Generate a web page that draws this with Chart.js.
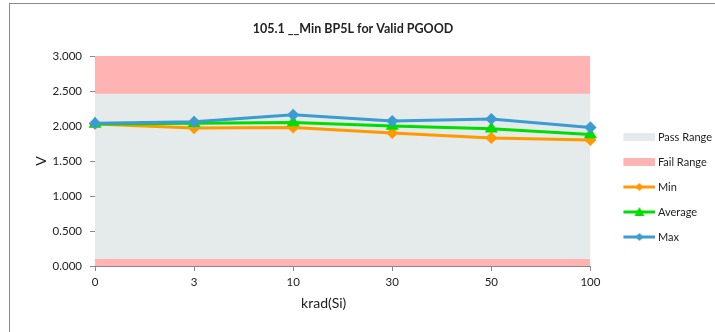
<!DOCTYPE html>
<html>
<head>
<meta charset="utf-8">
<script src="https://cdn.jsdelivr.net/npm/chart.js@4.4.0/dist/chart.umd.min.js"></script>
<style>
  html, body { margin: 0; padding: 0; background: #fff; overflow: hidden; }
  #wrap { position: relative; width: 715px; height: 332px; overflow: hidden; }
  #frame { position: absolute; left: 9px; top: 3px; width: 800px; height: 400px; border: 1px solid #8a8a8a; }
  #chart { position: absolute; left: -16px; top: 0; }
</style>
</head>
<body>
<div id="wrap">
  <div id="frame"></div>
  <canvas id="chart" width="738" height="332"></canvas>
</div>
<script>
// data
const categories = ["0", "3", "10", "30", "50", "100"];
const minValues = [2.03, 1.97, 1.98, 1.90, 1.83, 1.80];
const avgValues = [2.03, 2.04, 2.05, 2.00, 1.96, 1.88];
const maxValues = [2.04, 2.06, 2.16, 2.07, 2.10, 1.98];
const passUpper = 2.46;
const passLower = 0.10;
const failUpper = 3.0;
const yTicks = [0, 0.5, 1, 1.5, 2, 2.5, 3];
const xTitle = "krad(Si)";

const passColor = "#e5eaea";
const failColor = "#ffb3b3";
const orange = "#ff9900";
const green = "#00dd00";
const blue = "#3c9bd0";
const axisColor = "#888888";
const textColor = "#222222";

Chart.defaults.font.family = "Lato";

// little pictures for the legend: a line with its marker, or a filled box
function legendIcon(kind, color) {
  const c = document.createElement("canvas");
  c.width = 54;
  c.height = 12;
  const g = c.getContext("2d");
  g.fillStyle = color;
  if (kind === "box") {
    g.fillRect(22, 2, 32, 8);
    return c;
  }
  g.strokeStyle = color;
  g.lineWidth = 3;
  g.beginPath();
  g.moveTo(22, 6);
  g.lineTo(54, 6);
  g.stroke();
  g.beginPath();
  if (kind === "triangle") {
    g.moveTo(38, 1); g.lineTo(43, 10); g.lineTo(33, 10);
  } else {
    g.moveTo(38, 2); g.lineTo(42, 6); g.lineTo(38, 10); g.lineTo(34, 6);
  }
  g.closePath();
  g.fill();
  return c;
}

const icons = [
  legendIcon("box", passColor),
  legendIcon("box", failColor),
  legendIcon("diamond", orange),
  legendIcon("triangle", green),
  legendIcon("diamond", blue)
];

// x axis title sits a bit left of centre in the original
const xTitlePlugin = {
  id: "xTitle",
  afterDraw(chart) {
    const { ctx, chartArea } = chart;
    ctx.save();
    ctx.font = "14px Lato";
    ctx.fillStyle = textColor;
    ctx.textAlign = "center";
    ctx.textBaseline = "middle";
    ctx.fillText(xTitle, (chartArea.left + chartArea.right) / 2 - 19, chartArea.bottom + 37);
    ctx.restore();
  }
};

const axisGrid = { display: true, drawOnChartArea: false, drawTicks: true, tickLength: 5, color: axisColor };

new Chart(document.getElementById("chart"), {
  type: "line",
  data: {
    labels: categories,
    datasets: [
      {
        label: "Pass Range",
        data: categories.map(() => passUpper),
        fill: { value: passLower },
        backgroundColor: passColor,
        borderWidth: 0,
        pointRadius: 0,
        order: 10
      },
      {
        label: "Fail Range",
        data: categories.map(() => failUpper),
        fill: "origin",
        backgroundColor: failColor,
        borderWidth: 0,
        pointRadius: 0,
        order: 11
      },
      {
        label: "Min",
        data: minValues,
        borderColor: orange,
        backgroundColor: orange,
        borderWidth: 3,
        pointStyle: "rectRot",
        pointRadius: 4,
        fill: false,
        order: 3
      },
      {
        label: "Average",
        data: avgValues,
        borderColor: green,
        backgroundColor: green,
        borderWidth: 3,
        pointStyle: "triangle",
        pointRadius: 4.5,
        fill: false,
        order: 2
      },
      {
        label: "Max",
        data: maxValues,
        borderColor: blue,
        backgroundColor: blue,
        borderWidth: 3,
        pointStyle: "rectRot",
        pointRadius: 4,
        fill: false,
        order: 1
      }
    ]
  },
  options: {
    responsive: false,
    animation: false,
    layout: { padding: 0 },
    plugins: {
      title: {
        display: true,
        text: "105.1 __Min BP5L for Valid PGOOD",
        color: textColor,
        font: { size: 12.5, weight: "bold" },
        padding: { top: 21, bottom: 20 }
      },
      legend: {
        position: "right",
        title: { display: true, text: " ", font: { size: 10 }, padding: { top: 30, bottom: 0 } },
        labels: {
          usePointStyle: true,
          pointStyleWidth: 48,
          padding: 14,
          color: textColor,
          font: { size: 11 },
          generateLabels: chart =>
            Chart.defaults.plugins.legend.labels.generateLabels(chart).map(item => {
              item.pointStyle = icons[item.datasetIndex];
              return item;
            }),
          sort: (a, b) => a.datasetIndex - b.datasetIndex
        }
      },
      tooltip: { enabled: false }
    },
    scales: {
      x: {
        type: "category",
        offset: false,
        grid: axisGrid,
        border: { color: axisColor, width: 1 },
        ticks: { color: textColor, font: { size: 11.5 }, padding: 4, maxRotation: 0 },
        afterFit: s => { s.height = 66; }
      },
      y: {
        min: 0,
        max: failUpper,
        grid: axisGrid,
        border: { color: axisColor, width: 1 },
        afterBuildTicks: s => { s.ticks = yTicks.map(v => ({ value: v })); },
        ticks: { color: textColor, font: { size: 11.5 }, padding: 8, callback: v => v.toFixed(3) },
        title: { display: true, text: "V", color: textColor, font: { size: 14 }, padding: { top: 49, bottom: 0 } },
        afterFit: s => { s.width = 111; }
      }
    }
  },
  plugins: [xTitlePlugin]
});
</script>
</body>
</html>
